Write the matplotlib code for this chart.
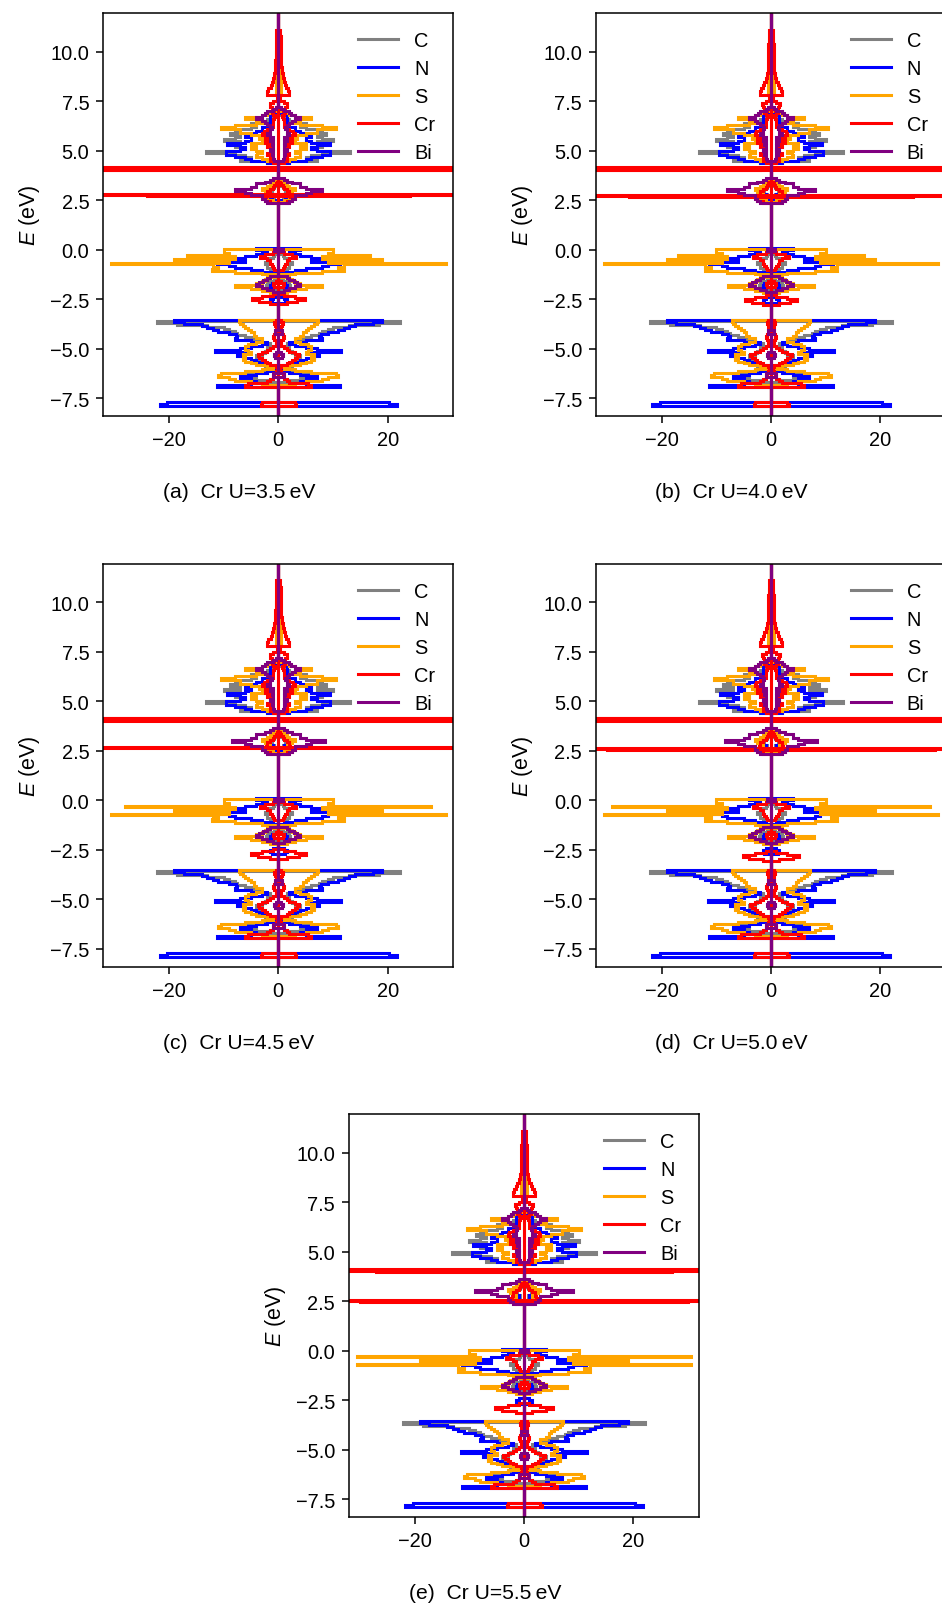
import numpy as np
import matplotlib
matplotlib.use("Agg")
import matplotlib.pyplot as plt
from matplotlib.lines import Line2D

# ---------------- data ----------------
U_values = [3.5, 4.0, 4.5, 5.0, 5.5]
panel_tags = ["a", "b", "c", "d", "e"]
species = ["C", "N", "S", "Cr", "Bi"]
colors = ["gray", "blue", "orange", "red", "purple"]

# (energy eV, |PDOS|) pairs, same magnitude for spin up (+) and spin down (-)
C_dos = [(-8.42, 0),
         (-6.75, 0), (-6.65, 2), (-6.55, 4), (-6.45, 5), (-6.35, 6), (-6.25, 5), (-6.15, 3), (-6.05, 1),
         (-5.95, 1.5), (-5.85, 2.5), (-5.75, 3), (-5.65, 4), (-5.55, 4), (-5.45, 3.5), (-5.35, 4), (-5.25, 3),
         (-5.15, 2.5), (-5.05, 2), (-4.95, 2), (-4.85, 1.5), (-4.75, 1.5), (-4.65, 3), (-4.55, 4), (-4.45, 5),
         (-4.35, 6), (-4.25, 7.5), (-4.15, 8), (-4.05, 9), (-3.95, 10), (-3.85, 13), (-3.75, 18.5), (-3.65, 22.2),
         (-3.55, 0),
         (-2.05, 0), (-1.95, 1.5), (-1.85, 2.2), (-1.75, 2), (-1.65, 1.5), (-1.55, 0.8), (-1.45, 0),
         (-1.05, 0), (-0.95, 1.5), (-0.85, 2), (-0.75, 2), (-0.65, 2.5), (-0.55, 1.5), (-0.45, 2), (-0.35, 1),
         (-0.25, 0.8), (-0.15, 0.5), (-0.05, 0),
         (2.45, 0), (2.55, 0.8), (2.65, 1), (2.75, 0.8), (2.85, 1.2), (2.95, 1.5), (3.05, 1.2), (3.15, 0.8),
         (3.25, 0.5), (3.35, 0),
         (4.35, 0), (4.45, 2), (4.55, 7), (4.65, 5), (4.75, 6), (4.85, 8), (4.95, 13.2), (5.05, 7), (5.15, 6),
         (5.25, 8), (5.35, 8.5), (5.45, 7), (5.55, 10), (5.65, 8), (5.75, 7), (5.85, 8.8), (5.95, 7), (6.05, 8),
         (6.15, 5), (6.25, 4), (6.35, 5), (6.45, 3), (6.55, 2), (6.65, 1.5), (6.75, 1), (6.85, 0.5), (6.95, 0),
         (11.97, 0)]

N_dos = [(-8.42, 0), (-7.95, 0), (-7.85, 21.7), (-7.75, 20.3), (-7.65, 0),
         (-7.0, 0), (-6.9, 11.3), (-6.8, 5), (-6.7, 4), (-6.6, 7), (-6.5, 5), (-6.4, 7), (-6.3, 4), (-6.2, 2),
         (-6.1, 1), (-6.0, 0.5), (-5.9, 1), (-5.8, 2), (-5.7, 3), (-5.6, 4), (-5.5, 5), (-5.4, 6.5), (-5.3, 7.5),
         (-5.2, 6), (-5.1, 11.5), (-5.0, 7), (-4.9, 5), (-4.8, 3), (-4.7, 2), (-4.6, 5), (-4.5, 8), (-4.4, 7.5),
         (-4.3, 7.8), (-4.2, 9), (-4.1, 11), (-4.0, 12), (-3.9, 13), (-3.8, 14), (-3.7, 17.3), (-3.6, 19),
         (-3.5, 0),
         (-2.75, 0), (-2.65, 1.2), (-2.55, 1.5), (-2.45, 1), (-2.35, 0),
         (-1.95, 0), (-1.85, 1.5), (-1.75, 1.2), (-1.65, 0),
         (-1.25, 0), (-1.15, 1), (-1.05, 3), (-0.95, 5), (-0.85, 8), (-0.75, 9), (-0.65, 11.3), (-0.55, 6),
         (-0.45, 7.7), (-0.35, 6), (-0.25, 4), (-0.15, 3), (-0.05, 2), (0.05, 4), (0.15, 0),
         (2.45, 0), (2.55, 1.5), (2.65, 1.2), (2.75, 1), (2.85, 1.5), (2.95, 2), (3.05, 2), (3.15, 1.5),
         (3.25, 1), (3.35, 0.5), (3.45, 0),
         (4.35, 0), (4.45, 2), (4.55, 5), (4.65, 6), (4.75, 8), (4.85, 9.5), (4.95, 9.5), (5.05, 7), (5.15, 6),
         (5.25, 7), (5.35, 9.4), (5.45, 6), (5.55, 5), (5.65, 5), (5.75, 6), (5.85, 5), (5.95, 4), (6.05, 3),
         (6.15, 3), (6.25, 2), (6.35, 2), (6.45, 1.5), (6.55, 1), (6.65, 1.5), (6.75, 1.5), (6.85, 1),
         (6.95, 0.5), (7.05, 0),
         (11.97, 0)]

S_dos = [(-8.42, 0),
         (-6.9, 0), (-6.8, 3), (-6.7, 5), (-6.6, 8), (-6.5, 9), (-6.4, 11), (-6.3, 10.5), (-6.2, 6), (-6.1, 3),
         (-6.0, 1), (-5.9, 2), (-5.8, 4), (-5.7, 5), (-5.6, 6), (-5.5, 6.5), (-5.4, 6), (-5.3, 6.5), (-5.2, 5),
         (-5.1, 5.5), (-5.0, 6), (-4.9, 6), (-4.8, 5.5), (-4.7, 4), (-4.6, 3), (-4.5, 3), (-4.4, 4), (-4.3, 4.5),
         (-4.2, 4.5), (-4.1, 5), (-4.0, 5.5), (-3.9, 6), (-3.8, 6.5), (-3.7, 7), (-3.6, 7.2), (-3.5, 0),
         (-2.25, 0), (-2.15, 1.5), (-2.05, 3), (-1.95, 5), (-1.85, 7.9), (-1.75, 4), (-1.65, 3), (-1.55, 2.5),
         (-1.45, 2), (-1.35, 0),
         (-1.3, 0), (-1.2, 3), (-1.1, 8), (-1.0, 12.1), (-0.9, 11), (-0.8, 12), (-0.75, 12), (-0.7, 30.6),
         (-0.65, 9), (-0.6, 9), (-0.5, 19), (-0.4, 8), (-0.35, 8), (-0.3, 16.7), (-0.25, 9), (-0.2, 9),
         (-0.1, 10), (0.0, 10), (0.1, 0),
         (2.35, 0), (2.45, 1), (2.55, 2), (2.65, 2), (2.75, 1.5), (2.85, 2), (2.95, 2.5), (3.05, 3), (3.15, 2),
         (3.25, 1.5), (3.35, 1), (3.45, 0.5), (3.55, 0),
         (4.35, 0), (4.45, 1), (4.55, 2), (4.65, 3), (4.75, 4), (4.85, 3.9), (4.95, 3), (5.05, 4), (5.15, 5),
         (5.25, 4), (5.35, 5), (5.45, 3), (5.55, 3), (5.65, 3.5), (5.75, 3), (5.85, 5), (5.95, 7), (6.05, 7),
         (6.15, 10.5), (6.25, 8), (6.35, 4), (6.45, 3), (6.55, 4), (6.65, 6), (6.75, 3), (6.85, 2), (6.95, 1),
         (7.05, 0.5), (7.15, 0),
         (7.75, 0), (7.85, 0.5), (8.5, 0.5), (9.5, 0.4), (10.5, 0.3), (10.9, 0),
         (11.97, 0)]

Cr_dos = [(-8.42, 0), (-7.95, 0), (-7.85, 3.2), (-7.75, 3.0), (-7.65, 0),
          (-7.0, 0), (-6.9, 6), (-6.8, 5.5), (-6.7, 2), (-6.6, 1.5), (-6.5, 1), (-6.4, 1), (-6.3, 0.8),
          (-6.2, 0.5), (-6.1, 0.3), (-6.0, 0.3), (-5.9, 0.5), (-5.8, 1.5), (-5.7, 2), (-5.6, 2.5), (-5.5, 3),
          (-5.4, 3.5), (-5.3, 3.8), (-5.2, 3), (-5.1, 2), (-5.0, 1.5), (-4.9, 1), (-4.8, 0.5), (-4.7, 0.3),
          (-4.6, 0.5), (-4.5, 0.8), (-4.4, 1), (-4.3, 0.8), (-4.2, 0.6), (-4.1, 0.5), (-4.0, 0.5), (-3.9, 0.5),
          (-3.8, 0.6), (-3.7, 0.8), (-3.6, 0.5), (-3.5, 0),
          (-1.95, 0), (-1.85, 0.8), (-1.75, 1), (-1.65, 0.5), (-1.55, 0),
          (-1.05, 0), (-0.95, 0.8), (-0.85, 1), (-0.75, 1.2), (-0.65, 1.5), (-0.55, 1.5), (-0.45, 2),
          (-0.35, 3.3), (-0.25, 2.5), (-0.15, 1), (-0.05, 0.5), (0.05, 0),
          (2.3, 0), (2.4, 1.5), (2.5, 2.5), (2.6, 2.5), (2.7, 2.2), (2.8, 2), (2.9, 2), (3.0, 1.5), (3.1, 1),
          (3.2, 0.8), (3.3, 0.5), (3.4, 0.3), (3.5, 0),
          (4.35, 0), (4.45, 1), (4.55, 1.5), (4.65, 1), (4.75, 1.5), (4.85, 2), (4.95, 1.5), (5.05, 1),
          (5.15, 1.5), (5.25, 2), (5.35, 1.5), (5.45, 2.5), (5.55, 2), (5.65, 2.5), (5.75, 2), (5.85, 3),
          (5.95, 2.7), (6.05, 2), (6.15, 1.5), (6.25, 1), (6.35, 1), (6.45, 1), (6.55, 1), (6.65, 0.8),
          (6.75, 0.6), (6.85, 1), (6.95, 1.2), (7.05, 0.8), (7.15, 1.2), (7.25, 1.5), (7.35, 1.6), (7.45, 1.0),
          (7.55, 0.3), (7.65, 0.3), (7.75, 0),
          (7.85, 2.0), (7.95, 2.0), (8.1, 1.8), (8.25, 1.4), (8.4, 1.2), (8.6, 1.0), (8.8, 0.8), (9.1, 0.6),
          (9.4, 0.55), (9.8, 0.5), (10.2, 0.5), (10.6, 0.45), (11.0, 0.4), (11.25, 0),
          (11.97, 0)]

Bi_dos = [(-8.42, 0), (-6.5, 0), (-6.4, 1), (-6.3, 1), (-6.2, 0),
          (-5.5, 0), (-5.4, 0.6), (-5.3, 0.8), (-5.2, 0.5), (-5.1, 0),
          (-4.3, 0), (-4.2, 0.6), (-4.1, 0.6), (-4.0, 0),
          (-2.2, 0), (-2.1, 1), (-2.0, 2), (-1.9, 3), (-1.8, 4), (-1.7, 3.5), (-1.6, 2.8), (-1.5, 2),
          (-1.4, 1.5), (-1.3, 0),
          (-0.1, 0), (0.0, 0.8), (0.1, 0),
          (2.3, 0), (2.4, 2), (2.5, 2.5), (2.6, 3), (2.7, 3), (2.8, 5), (2.9, 6), (3.0, 8), (3.1, 5), (3.2, 4),
          (3.3, 4), (3.4, 2.5), (3.5, 1.5), (3.6, 1), (3.7, 0),
          (4.45, 0), (4.55, 0.8), (4.65, 1), (4.75, 1), (4.85, 1.2), (4.95, 1), (5.05, 1.5), (5.15, 1),
          (5.25, 1), (5.35, 1.2), (5.45, 1), (5.55, 1.5), (5.65, 1), (5.75, 1.5), (5.85, 2), (5.95, 1.5),
          (6.05, 1.5), (6.15, 1.2), (6.25, 1.5), (6.35, 2), (6.45, 2.5), (6.55, 3), (6.65, 4), (6.75, 3),
          (6.85, 2.4), (6.95, 2), (7.05, 1), (7.15, 0.5), (7.25, 0),
          (11.97, 0)]

# panel dependent features (a .. e)
S_peak_m03 = [16.7, 17.0, 28.0, 29.0, 30.6]      # S state near -0.3 eV
Bi_peak_30 = [8.0, 8.0, 8.5, 8.5, 9.0]           # Bi state near 3.0 eV
Cr_semicore = [                                  # Cr d states near -2.5..-2.9 eV
    [(-2.8, 0), (-2.7, 1.5), (-2.6, 3.5), (-2.5, 4.8), (-2.4, 3.0), (-2.3, 1.0), (-2.2, 0)],
    [(-2.85, 0), (-2.75, 1.5), (-2.65, 3.5), (-2.55, 4.8), (-2.45, 3.0), (-2.35, 1.0), (-2.25, 0)],
    [(-3.0, 0), (-2.9, 1.5), (-2.8, 3.8), (-2.7, 5.0), (-2.6, 3.0), (-2.5, 1.0), (-2.4, 0)],
    [(-3.1, 0), (-3.0, 1.5), (-2.9, 4.0), (-2.8, 5.2), (-2.7, 3.0), (-2.6, 1.0), (-2.5, 0)],
    [(-3.2, 0), (-3.1, 1.5), (-3.0, 4.0), (-2.9, 5.3), (-2.8, 3.0), (-2.7, 1.0), (-2.6, 0)],
]
Cr_gap_states = [                                # huge Cr peaks inside the gap
    [(-8.42, 0), (2.7, 0), (2.74, 24), (2.78, 60), (2.82, 0),
     (4.0, 0), (4.03, 80), (4.06, 2), (4.09, 80), (4.12, 2), (4.15, 80), (4.18, 0), (11.97, 0)],
    [(-8.42, 0), (2.66, 0), (2.7, 26), (2.74, 60), (2.78, 0),
     (4.0, 0), (4.03, 80), (4.06, 2), (4.09, 80), (4.12, 2), (4.15, 80), (4.18, 0), (11.97, 0)],
    [(-8.42, 0), (2.6, 0), (2.64, 30), (2.68, 60), (2.72, 0),
     (4.0, 0), (4.03, 80), (4.06, 2), (4.09, 80), (4.12, 2), (4.15, 80), (4.18, 0), (11.97, 0)],
    [(-8.42, 0), (2.54, 0), (2.58, 30), (2.62, 60), (2.66, 0),
     (4.0, 0), (4.03, 80), (4.06, 2), (4.09, 80), (4.12, 2), (4.15, 80), (4.18, 0), (11.97, 0)],
    [(-8.42, 0), (2.47, 0), (2.51, 30), (2.55, 60), (2.59, 0),
     (3.99, 0), (4.02, 27), (4.05, 80), (4.08, 2), (4.11, 80), (4.14, 0), (11.97, 0)],
]

E_min, E_max = -8.42, 11.97
dos_min, dos_max = -32.0, 32.0
x_ticks = [-20, 0, 20]
y_ticks = [-7.5, -5.0, -2.5, 0.0, 2.5, 5.0, 7.5, 10.0]

# ---------------- style ----------------
FS = 14.4
plt.rcParams.update({
    "font.family": ["Liberation Sans", "DejaVu Sans"],
    "font.size": FS,
    "mathtext.fontset": "custom",
    "mathtext.rm": "Liberation Sans",
    "mathtext.it": "Liberation Sans:italic",
    "axes.linewidth": 1.1,
    "xtick.major.size": 5.0, "ytick.major.size": 5.0,
    "xtick.major.pad": 5.0, "ytick.major.pad": 5.0,
    "xtick.major.width": 1.1, "ytick.major.width": 1.1,
})
LW = 2.2

W, H = 942, 1608
fig = plt.figure(figsize=(W / 100, H / 100), dpi=100)

axes_px = [(103.3, 14.0), (596.0, 14.0), (103.3, 564.5), (596.0, 564.5), (349.0, 1115.0)]
aw, ah = 350.0, 403.3
caption_px = [(239.0, 493.0), (731.7, 493.0), (239.0, 1043.5), (731.7, 1043.5), (485.0, 1593.5)]


def to_arrays(pairs):
    e = np.array([p[0] for p in pairs], dtype=float)
    v = np.array([p[1] for p in pairs], dtype=float)
    order = np.argsort(e, kind="stable")
    return e[order], v[order]


def draw(ax, pairs, color):
    e, v = to_arrays(pairs)
    edges = np.concatenate([[e[0]], 0.5 * (e[1:] + e[:-1]), [e[-1]]])
    ax.stairs(v, edges, orientation="horizontal", color=color, lw=LW, baseline=None)
    ax.stairs(-v, edges, orientation="horizontal", color=color, lw=LW, baseline=None)


for i in range(5):
    x0, y0 = axes_px[i]
    ax = fig.add_axes([x0 / W, 1 - (y0 + ah) / H, aw / W, ah / H])

    s_pairs = [(e, S_peak_m03[i]) if e == -0.3 else (e, v) for e, v in S_dos]
    bi_pairs = [(e, Bi_peak_30[i]) if e == 3.0 else (e, v) for e, v in Bi_dos]
    cr_pairs = Cr_dos + Cr_semicore[i]

    series = [C_dos, N_dos, s_pairs, cr_pairs, bi_pairs]
    for name, pairs, col in zip(species, series, colors):
        draw(ax, pairs, col)
        if name == "Cr":
            draw(ax, Cr_gap_states[i], col)

    ax.set_xlim(dos_min, dos_max)
    ax.set_ylim(E_min, E_max)
    ax.set_xticks(x_ticks)
    ax.set_yticks(y_ticks)
    ax.set_ylabel("$E$ (eV)", fontsize=15.5)
    ax.yaxis.set_label_coords(-0.175, 0.5)

    handles = [Line2D([], [], color=c, lw=LW) for c in colors]
    ax.legend(handles, species, loc="upper right", frameon=False, fontsize=FS,
              handlelength=2.0, labelspacing=0.45, borderaxespad=0.5)

    cx, cy = caption_px[i]
    fig.text(cx / W, 1 - cy / H, f"({panel_tags[i]})  Cr U={U_values[i]:.1f}\u2009eV",
             ha="center", va="center", fontsize=15.2)

fig.savefig("out.png", dpi=100)
